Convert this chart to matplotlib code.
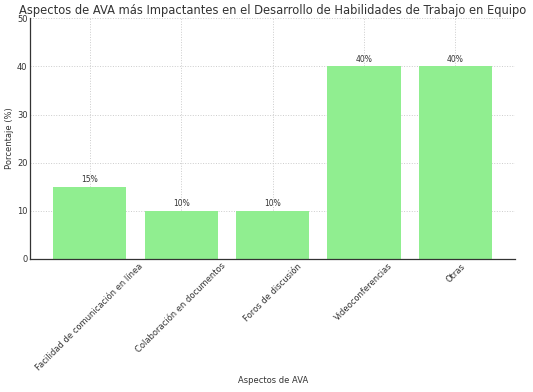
import matplotlib.pyplot as plt

categorias = ["Facilidad de comunicación en línea", "Colaboración en documentos",
              "Foros de discusión", "Videoconferencias", "Otras"]
porcentajes = [15, 10, 10, 40, 40]
yticks = [0, 10, 20, 30, 40, 50]

fig = plt.figure(figsize=(5.33, 3.92), dpi=100)
ax = fig.add_axes([0.057, 0.34, 0.909, 0.613])

bars = ax.bar(categorias, porcentajes, color="lightgreen", width=0.8, zorder=2)
for b, v in zip(bars, porcentajes):
    ax.text(b.get_x() + b.get_width() / 2, v + 0.5, f"{v}%", ha="center", va="bottom",
            fontsize=5.5, color="#333333")

ax.set_ylim(0, 50)
ax.set_yticks(yticks)
ax.set_xlim(-0.65, 4.65)
ax.grid(True, color="#cccccc", linestyle=":", linewidth=0.7, zorder=0)
for s in ["top", "right"]:
    ax.spines[s].set_visible(False)
for s in ["left", "bottom"]:
    ax.spines[s].set_color("#333333")
    ax.spines[s].set_linewidth(0.9)
ax.tick_params(axis="both", labelsize=6, length=0, pad=2, labelcolor="#333333")
plt.setp(ax.get_xticklabels(), rotation=45, ha="center")
ax.set_ylabel("Porcentaje (%)", fontsize=6, color="#333333", labelpad=2)
ax.set_xlabel("Aspectos de AVA", fontsize=6, color="#333333", labelpad=3)
ax.set_title("Aspectos de AVA más Impactantes en el Desarrollo de Habilidades de Trabajo en Equipo",
             fontsize=8.3, color="#333333", pad=3)

fig.savefig("out.png", dpi=100)
